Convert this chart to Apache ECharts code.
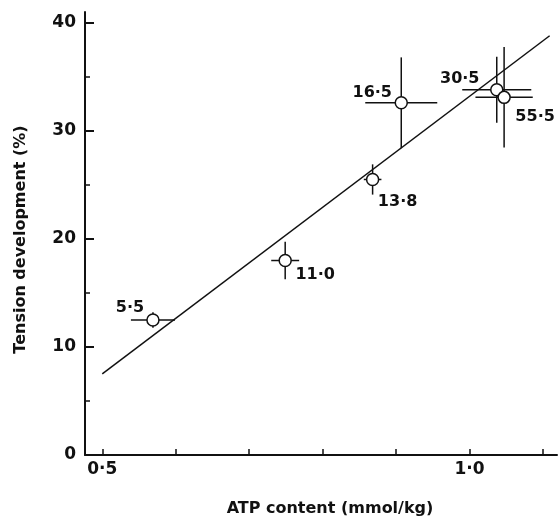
<!DOCTYPE html>
<html>
<head>
<meta charset="utf-8">
<script src="https://cdn.jsdelivr.net/npm/echarts@6/dist/echarts.min.js"></script>
<style>
  html, body { margin: 0; padding: 0; background: #fff; }
  #chart { width: 558px; height: 518px; }
</style>
</head>
<body>
<div id="chart"></div>
<script>
// ── Data ─────────────────────────────────────────────────────────────────────
const atp        = [0.569, 0.749, 0.868, 0.907, 1.037, 1.047];   // mmol/kg
const tension    = [12.5, 18.0, 25.5, 32.6, 33.8, 33.1];          // %
const atpErr     = [0.030, 0.019, 0.012, 0.049, 0.047, 0.039];
const tensionErr = [0.72, 1.73, 1.4, 4.2, 3.05, 4.65];
const pointNames = ['5·5', '11·0', '13·8', '16·5', '30·5', '55·5'];

// regression line end points
const fitX = [0.5, 1.109];
const fitY = [7.5, 38.8];

const xTicks  = [0.5, 0.6, 0.7, 0.8, 0.9, 1.0, 1.1];
const xLabels = [0.5, 1.0];
const yMajor  = [0, 10, 20, 30, 40];
const yMinor  = [5, 15, 25, 35];

// label placement relative to each circle (layout, not data)
const labelOffsets = [[-23, -12], [30, 14], [25, 22], [-29, -10], [-37, -11], [31, 19]];

const FONT = 'DejaVu Sans';
const INK = '#111';

const dot = v => v.toFixed(1).replace('.', '·');

const chart = echarts.init(document.getElementById('chart'), null, { renderer: 'canvas' });

chart.setOption({
  animation: false,
  backgroundColor: '#fff',
  grid: { left: 85, right: 1, top: 12, bottom: 63, outerBoundsMode: 'none', containLabel: false },
  xAxis: {
    type: 'value',
    min: 0.4765,
    max: 1.119,
    name: 'ATP content (mmol/kg)',
    nameLocation: 'middle',
    nameGap: 46,
    nameTextStyle: { fontFamily: FONT, fontSize: 16, fontWeight: 'bold', color: INK, padding: [0, 0, 0, 18] },
    axisLine: { lineStyle: { color: INK, width: 2 } },
    axisTick: { inside: true, length: 6, customValues: xTicks, lineStyle: { color: INK, width: 1.5 } },
    axisLabel: {
      customValues: xLabels, margin: 6, formatter: dot,
      fontFamily: FONT, fontSize: 17, fontWeight: 'bold', color: INK
    },
    splitLine: { show: false }
  },
  yAxis: [
    {
      type: 'value',
      min: 0,
      max: 41,
      name: 'Tension development (%)',
      nameLocation: 'middle',
      nameRotate: 90,
      nameGap: 56,
      nameTextStyle: { fontFamily: FONT, fontSize: 16, fontWeight: 'bold', color: INK, padding: [0, 12, 0, 0] },
      axisLine: { show: true, lineStyle: { color: INK, width: 2 } },
      axisTick: { inside: true, length: 9, customValues: yMajor, lineStyle: { color: INK, width: 2 } },
      axisLabel: {
        customValues: yMajor, margin: 9,
        fontFamily: FONT, fontSize: 17, fontWeight: 'bold', color: INK
      },
      splitLine: { show: false }
    },
    {
      type: 'value',
      min: 0,
      max: 41,
      position: 'left',
      axisLine: { show: false },
      axisTick: { show: true, inside: true, length: 5, customValues: yMinor, lineStyle: { color: INK, width: 1.5 } },
      axisLabel: { show: false },
      splitLine: { show: false }
    }
  ],
  series: [
    {
      type: 'line',
      data: fitX.map((x, i) => [x, fitY[i]]),
      showSymbol: false,
      lineStyle: { color: INK, width: 1.5 },
      z: 2
    },
    {
      type: 'custom',
      data: atp.map((x, i) => [x, tension[i], atpErr[i], tensionErr[i]]),
      renderItem: (params, api) => {
        const x = api.value(0), y = api.value(1);
        const dx = api.value(2), dy = api.value(3);
        const l = api.coord([x - dx, y]), r = api.coord([x + dx, y]);
        const t = api.coord([x, y + dy]), b = api.coord([x, y - dy]);
        const style = { stroke: INK, lineWidth: 1.5 };
        return {
          type: 'group',
          children: [
            { type: 'line', shape: { x1: l[0], y1: l[1], x2: r[0], y2: r[1] }, style },
            { type: 'line', shape: { x1: t[0], y1: t[1], x2: b[0], y2: b[1] }, style }
          ]
        };
      },
      z: 3
    },
    {
      type: 'scatter',
      symbol: 'circle',
      symbolSize: 12,
      itemStyle: { color: '#fff', borderColor: INK, borderWidth: 1.5, opacity: 1 },
      data: atp.map((x, i) => ({
        value: [x, tension[i]],
        label: { offset: labelOffsets[i] }
      })),
      label: {
        show: true,
        position: 'inside',
        formatter: p => pointNames[p.dataIndex],
        fontFamily: FONT,
        fontSize: 16,
        fontWeight: 'bold',
        color: INK
      },
      z: 4
    }
  ]
});
</script>
</body>
</html>
